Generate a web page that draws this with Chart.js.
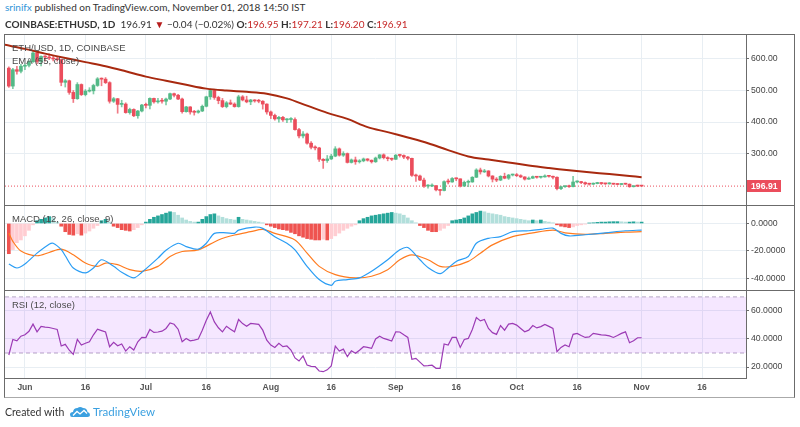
<!DOCTYPE html>
<html lang="en">
<head>
<meta charset="UTF-8" />
<title>COINBASE:ETHUSD, 1D</title>
<script src="https://cdn.jsdelivr.net/npm/chart.js"></script>
<style>
  body { margin: 0; width: 800px; height: 427px; background: #fff; position: relative; overflow: hidden; font-family: "Lato", sans-serif; color: #333; }
  canvas { position: absolute; }
  .txt { position: absolute; white-space: nowrap; z-index: 3; }
  .red { color: #c62828; }
  .legend { font-family: "Liberation Sans", sans-serif; font-size: 9.5px; color: #4a4a4a; left: 12px; }
  .line { position: absolute; background: #6b6b6b; z-index: 2; }
</style>
</head>
<body>
  <div class="txt" style="left:5px; top:1px; font-size:10px;"><span style="color:#2f94d8">srinifx</span> published on TradingView.com, November 01, 2018 14:50 IST</div>
  <div class="txt" style="left:5px; top:18px; font-size:10px;"><b>COINBASE:ETHUSD, 1D</b>&nbsp; 196.91 <span style="color:#b71c1c">&#9660;</span> &minus;0.04 (&minus;0.02%) <b>O:</b><span class="red">196.95</span> <b>H:</b><span class="red">197.21</span> <b>L:</b><span class="red">196.20</span> <b>C:</b><span class="red">196.91</span></div>

  <div style="position:absolute; left:4px; top:34px; width:789px; height:362px; border:1px solid #6b6b6b; border-bottom-color:#aaa; z-index:2;"></div>
  <canvas id="price" width="789" height="170" style="left:5px; top:35px;"></canvas>
  <div class="line" style="left:5px; top:205px; width:789px; height:1px;"></div>
  <canvas id="macd" width="789" height="84" style="left:5px; top:206px;"></canvas>
  <div class="line" style="left:5px; top:290px; width:789px; height:1px;"></div>
  <canvas id="rsi" width="789" height="106" style="left:5px; top:291px;"></canvas>

  <div class="txt legend" style="top:42px;">ETH/USD, 1D, COINBASE</div>
  <div class="txt legend" style="top:55px;">EMA (55, close)</div>
  <div class="txt legend" style="top:213px;">MACD (12, 26, close, 9)</div>
  <div class="txt legend" style="top:299px;">RSI (12, close)</div>

  <div class="txt" style="left:5px; top:406px; font-size:10.5px;">Created with</div>
  <svg style="position:absolute; left:70px; top:406px;" width="20" height="12" viewBox="0 0 20 12">
    <path d="M2 11 Q0 11 0 8.5 Q0 6 3 6 Q3.5 2 7.5 2 Q10 0 13 2 Q17 2 17.5 6 Q20 6.5 20 9 Q20 11 17.5 11 Z" fill="#3ba0e0"/>
    <path d="M3 9.5 L7 5.5 L10 8 L14 4.5 L17 7.5" stroke="#fff" stroke-width="1.3" fill="none"/>
  </svg>
  <div class="txt" style="left:93px; top:405px; font-size:11.5px; color:#3ba0e0;">TradingView</div>

<script>
  // day index: Jun 1 = 0, first candle May 28 = -4
  const firstDay = -4;
  const xRange = [-4.95, 178.9];
  const dayTicks = [0, 15, 30, 45, 61, 76, 92, 107, 122, 137, 153, 168];
  const dayTickLabels = ["Jun", "16", "Jul", "16", "Aug", "16", "Sep", "16", "Oct", "16", "Nov", "16"];
  const priceTicks = [300, 400, 500, 600];
  const macdTicks = [-40, -20, 0];
  const rsiTicks = [20, 40, 60];
  const rsiBands = [30, 70];
  const lastPrice = 196.91;

  // [open, high, low, close]
  const candles = [
    // May 28 - 31
    [571, 575, 510, 514], [514, 570, 506, 566], [566, 577, 552, 561], [561, 583, 556, 577],
    // Jun
    [577, 584, 566, 580], [580, 595, 575, 591], [591, 624, 589, 619], [619, 620, 585, 592], [592, 610, 578, 608],
    [608, 611, 593, 606], [606, 616, 598, 603], [603, 608, 594, 600], [600, 605, 593, 598], [598, 598, 515, 526],
    [526, 535, 511, 531], [531, 533, 488, 494], [494, 500, 462, 474], [474, 525, 472, 519], [519, 521, 484, 487],
    [487, 503, 483, 498], [498, 509, 495, 499], [499, 520, 489, 516], [516, 541, 513, 537], [537, 540, 515, 536],
    [536, 541, 522, 525], [525, 528, 460, 466], [466, 478, 462, 474], [474, 475, 428, 456], [456, 469, 448, 457],
    [457, 461, 428, 430], [430, 444, 425, 440], [440, 442, 417, 420], [420, 437, 412, 435], [435, 456, 432, 454],
    // Jul
    [454, 460, 445, 453], [453, 477, 442, 475], [475, 476, 460, 464], [464, 475, 460, 467], [467, 475, 460, 466],
    [466, 476, 454, 473], [473, 492, 471, 490], [490, 492, 480, 485], [485, 488, 471, 473], [473, 476, 428, 433],
    [433, 450, 431, 448], [448, 449, 425, 432], [432, 437, 422, 431], [431, 438, 428, 435], [435, 454, 433, 450],
    [450, 482, 448, 480], [480, 505, 472, 500], [500, 504, 472, 478], [478, 482, 458, 468], [468, 475, 446, 449],
    [449, 465, 445, 461], [461, 470, 455, 457], [457, 461, 447, 449], [449, 485, 447, 480], [480, 484, 467, 470],
    [470, 482, 461, 464], [464, 472, 455, 470], [470, 471, 463, 467], [467, 472, 461, 466], [466, 468, 441, 457],
    [457, 458, 425, 432],
    // Aug
    [432, 435, 411, 421], [421, 425, 406, 410], [410, 418, 400, 415], [415, 418, 402, 407], [407, 411, 398, 408],
    [408, 414, 400, 408], [408, 413, 374, 376], [376, 380, 350, 356], [356, 370, 350, 362], [362, 365, 330, 333],
    [333, 338, 315, 320], [320, 325, 312, 318], [318, 320, 275, 282], [282, 284, 253, 278], [278, 294, 272, 283],
    [283, 298, 281, 292], [292, 322, 290, 315], [315, 318, 292, 295], [295, 306, 291, 300], [300, 302, 270, 272],
    [272, 283, 270, 280], [280, 289, 266, 274], [274, 281, 270, 277], [277, 286, 274, 283], [283, 284, 276, 279],
    [279, 280, 270, 274], [274, 289, 272, 286], [286, 297, 283, 296], [296, 299, 283, 287], [287, 290, 277, 284],
    [284, 286, 278, 282],
    // Sep
    [282, 297, 281, 295], [295, 298, 289, 294], [294, 296, 284, 289], [289, 291, 280, 285], [285, 286, 228, 231],
    [231, 235, 212, 229], [229, 232, 214, 216], [216, 222, 193, 197], [197, 202, 190, 197], [197, 204, 195, 198],
    [198, 199, 182, 185], [185, 186, 168, 183], [183, 214, 182, 211], [211, 219, 204, 210], [210, 224, 209, 221],
    [221, 223, 214, 220], [220, 220, 194, 197], [197, 213, 196, 209], [209, 216, 195, 210], [210, 227, 209, 225],
    [225, 252, 224, 248], [248, 254, 235, 242], [242, 250, 240, 245], [245, 246, 226, 229], [229, 230, 210, 219],
    [219, 224, 211, 216], [216, 230, 214, 228], [228, 238, 220, 222], [222, 234, 218, 232], [232, 235, 229, 233],
    // Oct
    [233, 237, 227, 230], [230, 233, 224, 226], [226, 227, 216, 219], [219, 226, 218, 222], [222, 229, 221, 227],
    [227, 228, 222, 225], [225, 228, 222, 226], [226, 233, 225, 229], [229, 230, 225, 228], [228, 229, 220, 225],
    [225, 226, 185, 189], [189, 197, 186, 195], [195, 198, 193, 196], [196, 200, 193, 195], [195, 228, 194, 210],
    [210, 214, 207, 210], [210, 212, 205, 208], [208, 210, 201, 204], [204, 206, 200, 203], [203, 207, 202, 205],
    [205, 209, 204, 206], [206, 208, 202, 205], [205, 206, 202, 204], [204, 208, 203, 205], [205, 206, 202, 203],
    [203, 205, 201, 202], [202, 205, 201, 204], [204, 206, 202, 203], [203, 204, 193, 195], [195, 198, 194, 197],
    [197, 200, 195, 196.95],
    // Nov 1
    [196.95, 197.21, 196.2, 196.91],
  ];

  // EMA 55: [day, value]
  const ema55 = [
    [-5, 645], [0, 632], [5, 617], [10, 603], [15, 590], [20, 577], [25, 561], [30, 544], [35, 531], [40, 518],
    [45, 506], [50, 500], [55, 496], [60, 490], [65, 475], [70, 452], [75, 429], [80, 410], [85, 384], [90, 368],
    [95, 351], [100, 333], [105, 311], [110, 291], [115, 281], [120, 272], [125, 262], [130, 254], [135, 247],
    [140, 241], [145, 235], [150, 229], [153, 225],
  ];

  // MACD (12, 26, 9): [day, value]
  const macdLine = [
    [-4, -29.5], [-2, -32.4], [0, -29.5], [3, -21.6], [6, -15.1], [7, -14.4], [9, -19], [10, -23.5], [12, -32.4],
    [15, -36], [17, -32.4], [19, -26.4], [22, -31.2], [24, -35.5], [27, -39.6], [29, -35.5], [33, -25.2], [35, -19.5],
    [38, -14.4], [40, -16.8], [43, -18.7], [45, -14.4], [47, -7.2], [50, -6.8], [52, -7.2], [53, -4.8], [57, -2.6],
    [59, -3.6], [62, -9.6], [65, -14.4], [67, -19.2], [70, -31.2], [73, -40.8], [76, -45], [77, -42], [80, -40.8],
    [83, -39.6], [86, -34.8], [90, -26.4], [93, -19.2], [95, -17.5], [98, -26.4], [100, -32], [103, -36.5],
    [105, -32.4], [107, -27.6], [110, -24], [112, -14.4], [115, -10.8], [118, -9.6], [121, -6], [125, -5.3],
    [128, -4.3], [131, -3.4], [133, -7.2], [135, -9.1], [139, -8.2], [144, -6.8], [149, -5.3], [153, -4.8],
  ];
  const signalLine = [
    [-4, -7], [-3, -13], [-1, -20], [3, -23.5], [6, -21.1], [9, -18.7], [12, -22.8], [15, -28.8], [18, -31.2],
    [20, -28.8], [23, -30], [26, -33.6], [29, -34.8], [33, -31.2], [36, -24], [39, -20.4], [43, -19.2], [48, -12],
    [52, -8.4], [56, -6], [59, -4.3], [62, -7.2], [67, -12], [70, -21.6], [73, -31.2], [77, -37.2], [82, -39.6],
    [86, -38.4], [90, -33.6], [93, -26.4], [96, -22.8], [100, -26.4], [103, -31.2], [106, -31.2], [110, -27.6],
    [113, -21.6], [116, -15.6], [121, -9.6], [126, -6.8], [131, -4.8], [134, -6.8], [139, -7.9], [144, -7.2],
    [149, -6.3], [153, -6],
  ];
  // histogram, one per candle
  const macdHist = [
    -22, -19, -14, -12,
    -9, -5, -1, 2, 3, 4, 5, 4, 1, -2, -6, -8, -8.5, -7.5, -8.5, -7, -5.5, -3.5, -1.5, 2,
    3, 1, -2, -3, -4.5, -5, -5.5, -4.5, -3, -1,
    1, 3, 4.5, 5.5, 6.5, 7.5, 8.5, 8, 6, 4, 2.5, 1.5, 1, 1, 3, 5, 6.5, 7, 5.5, 4.5,
    3.5, 3, 2.5, 4.5, 3, 2.5, 2, 1.5, 1, 0.5, -1,
    -2, -3, -4, -4.5, -5, -6.5, -7.5, -9, -10, -11, -11.5, -12, -12, -11.5, -12, -11, -9, -7, -5, -3.5,
    -2, -1, 2, 3.5, 4.5, 5.5, 6, 6.5, 7, 7.5, 8,
    7.5, 7, 6, 4, 2, 0.5, -1.5, -3, -5, -6, -6, -5, -3.5, -1.5, 2, 2.5, 3, 4, 5.5, 7,
    8, 9, 8.5, 7.5, 7, 6.5, 6, 5, 4.5, 4,
    3.5, 3, 2.5, 2, 2.5, 2, 2.5, 1.5, 1, 0.5, -1, -2, -2.5, -3, -2.5, -1.5, -1, -0.5, 0.3, 0.5,
    0.8, 1, 1, 1.2, 1.3, 1.3, 1.2, 1, 1, 1.2, 1,
    1,
  ];

  // RSI 12, one per candle
  const rsi12 = [
    28.6, 39.7, 38.7, 42,
    43, 45.5, 50.6, 45.1, 49, 48.5, 48.2, 47.5, 46.8, 35, 36.2, 32, 29, 39.7, 35.7, 37, 38, 43, 47, 46,
    45, 34.5, 37.6, 35.2, 36.4, 31.4, 34.5, 32.1, 38, 41.1,
    41, 46.8, 44.7, 45, 45.6, 47.5, 51.5, 50.5, 47, 38, 40.4, 38.7, 39.2, 40, 46.3, 53.4, 59.3, 52.2, 48, 45.1,
    49.1, 47, 45.1, 53.9, 51, 49.1, 51.1, 50.8, 50.4, 46.3, 39.2,
    35.7, 34, 36.9, 34.5, 35, 32.1, 26.5, 24.3, 27.9, 21.5, 20.5, 20.3, 17.2, 16.7, 18, 20.8, 35, 31.4, 32.8, 27.4,
    31.6, 29.8, 32, 34.5, 34, 33.3, 40, 42, 40.4, 39.5, 38.5,
    45.1, 45, 43, 41.1, 25.5, 26.2, 23.5, 20.8, 21, 21.3, 19.1, 19.1, 36.4, 35.7, 41.1, 41.1, 34, 39.7, 40.4, 46.8,
    55.3, 52.9, 53.9, 47.5, 44.5, 43.3, 49.6, 46.3, 50.6, 51.1,
    49.9, 47.5, 45.1, 46.3, 49.6, 47.9, 48.8, 50.4, 49, 47.5, 30.9, 34, 35.7, 34.5, 43.3, 44, 42.5, 41.1, 41.5, 44,
    43.5, 43, 42.8, 42.2, 41.1, 42.5, 44, 45.1, 37.3, 38.7, 40.9,
    40.9,
  ];

  const GREEN = "#53b987";
  const RED = "#eb4d5c";
  const GRID = "#e8eef3";
  const AXIS_COLOR = "#6b6b6b";

  const days = candles.map((c, i) => firstDay + i);
  const candleColors = candles.map((c) => (c[3] >= c[0] ? GREEN : RED));
  const wickColors = candles.map((c) => (c[3] >= c[0] ? "rgba(83,185,135,0.75)" : "rgba(235,77,92,0.75)"));
  const histColors = macdHist.map((v, i) => {
    const prev = i ? macdHist[i - 1] : v;
    if (v >= 0) return v >= prev ? "#26a69a" : "#b2dfdb";
    return v <= prev ? "#ef5350" : "#ffcdd2";
  });
  const pts = (arr) => arr.map((p) => ({ x: p[0], y: p[1] }));

  function xAxis(withLabels) {
    return {
      type: "linear",
      min: xRange[0],
      max: xRange[1],
      offset: false,
      afterBuildTicks: (s) => { s.ticks = dayTicks.map((v) => ({ value: v })); },
      afterFit: (s) => { s.height = withLabels ? 19 : 0; s.paddingLeft = 0; s.paddingRight = 0; },
      grid: { color: GRID, drawTicks: false, offset: false },
      border: { display: withLabels, color: AXIS_COLOR },
      ticks: {
        display: withLabels,
        autoSkip: false,
        maxRotation: 0,
        padding: 5,
        color: "#555",
        font: { family: "Liberation Sans", size: 8.5, weight: "bold" },
        callback: (v, i) => dayTickLabels[i],
      },
    };
  }

  function yAxis(min, max, ticks, digits) {
    return {
      position: "right",
      min: min,
      max: max,
      afterBuildTicks: (s) => { s.ticks = ticks.map((v) => ({ value: v })); },
      afterFit: (s) => { s.width = 48; s.paddingTop = 0; s.paddingBottom = 0; },
      grid: { color: GRID, tickColor: AXIS_COLOR, tickLength: 3 },
      border: { color: AXIS_COLOR },
      ticks: {
        padding: 2,
        color: "#444",
        font: { family: "Liberation Sans", size: 8.7 },
        callback: (v) => v.toFixed(digits),
      },
    };
  }

  function baseOptions(scales) {
    return {
      responsive: false,
      animation: false,
      devicePixelRatio: 1,
      events: [],
      layout: { padding: 0 },
      plugins: { legend: { display: false }, tooltip: { enabled: false } },
      scales: scales,
    };
  }

  // red tag with the last price on the right axis
  const lastPriceTag = {
    id: "lastPriceTag",
    afterDraw(chart) {
      const y = chart.scales.y.getPixelForValue(lastPrice);
      const x = chart.chartArea.right + 1;
      const ctx = chart.ctx;
      ctx.save();
      ctx.fillStyle = RED;
      ctx.fillRect(x, Math.round(y) - 6, 34, 12);
      ctx.fillStyle = "#fff";
      ctx.font = 'bold 8.7px "Liberation Sans"';
      ctx.textBaseline = "middle";
      ctx.fillText(lastPrice.toFixed(2), x + 4, y + 0.5);
      ctx.restore();
    },
  };

  new Chart(document.getElementById("price"), {
    type: "bar",
    data: {
      datasets: [
        { type: "line", data: pts(ema55), borderColor: "#a8290f", borderWidth: 2, pointRadius: 0, tension: 0.35, order: 0 },
        {
          type: "bar",
          data: candles.map((c, i) => ({ x: days[i], y: [c[0], c[3]] })),
          backgroundColor: candleColors,
          barThickness: 3,
          minBarLength: 1,
          grouped: false,
          order: 1,
        },
        {
          type: "bar",
          data: candles.map((c, i) => ({ x: days[i], y: [c[2], c[1]] })),
          backgroundColor: wickColors,
          barThickness: 1,
          grouped: false,
          order: 2,
        },
        {
          type: "line",
          data: [{ x: xRange[0], y: lastPrice }, { x: xRange[1], y: lastPrice }],
          borderColor: RED,
          borderWidth: 1,
          borderDash: [1, 2],
          pointRadius: 0,
          order: 3,
        },
      ],
    },
    options: baseOptions({ x: xAxis(false), y: yAxis(137, 676, priceTicks, 2) }),
    plugins: [lastPriceTag],
  });

  new Chart(document.getElementById("macd"), {
    type: "bar",
    data: {
      datasets: [
        { type: "line", data: pts(macdLine), borderColor: "#2a9df4", borderWidth: 1.2, pointRadius: 0, tension: 0.3, order: 0 },
        { type: "line", data: pts(signalLine), borderColor: "#ff7b1f", borderWidth: 1.2, pointRadius: 0, tension: 0.3, order: 1 },
        {
          type: "bar",
          data: macdHist.map((v, i) => ({ x: days[i], y: v })),
          backgroundColor: histColors,
          barThickness: 3,
          grouped: false,
          order: 2,
        },
      ],
    },
    options: baseOptions({ x: xAxis(false), y: yAxis(-48.4, 12.7, macdTicks, 4) }),
  });

  new Chart(document.getElementById("rsi"), {
    type: "line",
    data: {
      datasets: [
        { data: rsi12.map((v, i) => ({ x: days[i], y: v })), borderColor: "#9c3bb5", borderWidth: 1.2, pointRadius: 0, tension: 0, order: 0 },
        {
          data: [{ x: xRange[0], y: rsiBands[1] }, { x: xRange[1], y: rsiBands[1] }],
          borderColor: "#b4a7c4",
          borderWidth: 1,
          borderDash: [4, 3],
          pointRadius: 0,
          fill: "+1",
          backgroundColor: "rgba(153,21,255,0.1)",
          order: 1,
        },
        {
          data: [{ x: xRange[0], y: rsiBands[0] }, { x: xRange[1], y: rsiBands[0] }],
          borderColor: "#b4a7c4",
          borderWidth: 1,
          borderDash: [4, 3],
          pointRadius: 0,
          fill: false,
          order: 2,
        },
      ],
    },
    options: baseOptions({ x: xAxis(true), y: yAxis(12.2, 74.2, rsiTicks, 4) }),
  });
</script>
</body>
</html>
